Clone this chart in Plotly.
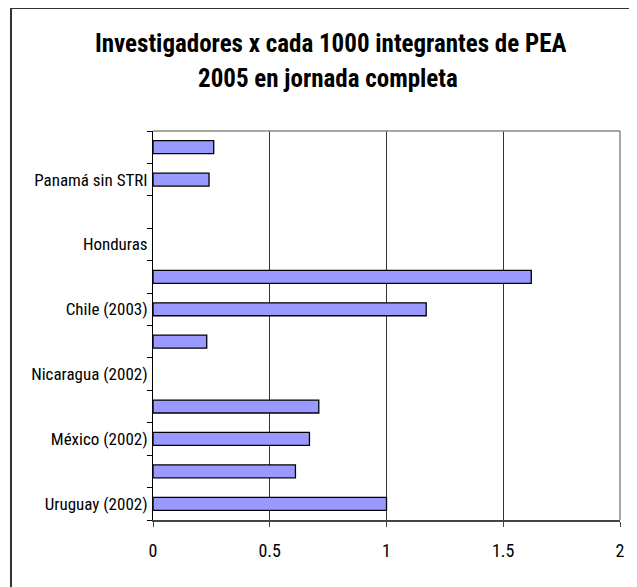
import plotly.graph_objects as go

# Data (bottom to top, as drawn)
categories = ["Uruguay (2002)", "", "México (2002)", "", "Nicaragua (2002)", "",
              "Chile (2003)", "", "Honduras", "", "Panamá sin STRI", ""]
values = [1.00, 0.61, 0.67, 0.71, None, 0.23, 1.17, 1.62, None, None, 0.24, 0.26]
x_ticks = [0, 0.5, 1, 1.5, 2]
x_tick_labels = ["0", "0.5", "1", "1.5", "2"]
title_lines = ["Investigadores x cada 1000 integrantes de PEA",
               "2005 en jornada completa"]

# page body has an 8px margin: work in page pixels and convert
OFF = 8
W, H = 629, 579
L, R, T, B = 153 - OFF, (W + OFF) - 620, 131 - OFF, (H + OFF) - 520
pw, ph = W - L - R, H - T - B

FONT = "Liberation Sans Narrow, Arial Narrow, Roboto Condensed, Liberation Sans, sans-serif"

positions = list(range(len(categories)))

fig = go.Figure()
fig.add_trace(go.Bar(
    y=positions, x=values, orientation="h", width=0.4,
    marker=dict(color="#9999FF", line=dict(color="#000000", width=1.3)),
    hoverinfo="x+y", showlegend=False,
))

def px_x(p):  # page pixel -> paper
    return (p - OFF - L) / pw

def px_y(p):
    return (H - B - (p - OFF)) / ph

fig.update_layout(
    width=W, height=H,
    margin=dict(l=L, r=R, t=T, b=B, pad=0),
    paper_bgcolor="white", plot_bgcolor="white",
    font=dict(family=FONT, color="#000000"),
    bargap=0.6,
    xaxis=dict(
        range=[0, 2], tickmode="array", tickvals=x_ticks, ticktext=x_tick_labels,
        showgrid=True, gridcolor="#333333", gridwidth=1, zeroline=False,
        showline=True, linecolor="#444444", linewidth=1.5,
        ticks="outside", ticklen=5, tickcolor="#444444",
        tickfont=dict(size=18, family=FONT), ticklabelstandoff=9, fixedrange=True,
    ),
    yaxis=dict(
        range=[-0.5, len(categories) - 0.5], tickmode="array",
        tickvals=positions, ticktext=categories, ticks="",
        tickfont=dict(size=17, family=FONT),
        showgrid=False, zeroline=False,
        showline=True, linecolor="#000000", linewidth=1,
        minor=dict(tickmode="array",
                   tickvals=[p - 0.5 for p in positions] + [len(categories) - 0.5],
                   ticks="outside", ticklen=5, tickcolor="#000000", showgrid=False),
        ticklabelstandoff=1, fixedrange=True,
    ),
    shapes=[
        # plot area top & right borders (gray)
        dict(type="line", xref="paper", yref="paper", x0=0, x1=1, y0=1, y1=1,
             line=dict(color="#888888", width=1.5)),
        dict(type="line", xref="paper", yref="paper", x0=1, x1=1, y0=0, y1=1,
             line=dict(color="#888888", width=1.5)),
        # chart frame (left and top edges)
        dict(type="line", xref="paper", yref="paper",
             x0=px_x(11), x1=px_x(11), y0=px_y(H + OFF + 5), y1=px_y(OFF),
             line=dict(color="#333333", width=2)),
        dict(type="line", xref="paper", yref="paper",
             x0=px_x(11), x1=px_x(W + OFF + 5), y0=px_y(OFF), y1=px_y(OFF),
             line=dict(color="#333333", width=2)),
    ],
    annotations=[
        dict(text="<b>%s</b>" % title_lines[0], xref="paper", yref="paper",
             x=px_x(330), y=px_y(44), xanchor="center", yanchor="middle",
             showarrow=False, font=dict(size=25, family=FONT)),
        dict(text="<b>%s</b>" % title_lines[1], xref="paper", yref="paper",
             x=px_x(328), y=px_y(78), xanchor="center", yanchor="middle",
             showarrow=False, font=dict(size=25, family=FONT)),
    ],
)

fig.write_html("out.html")
